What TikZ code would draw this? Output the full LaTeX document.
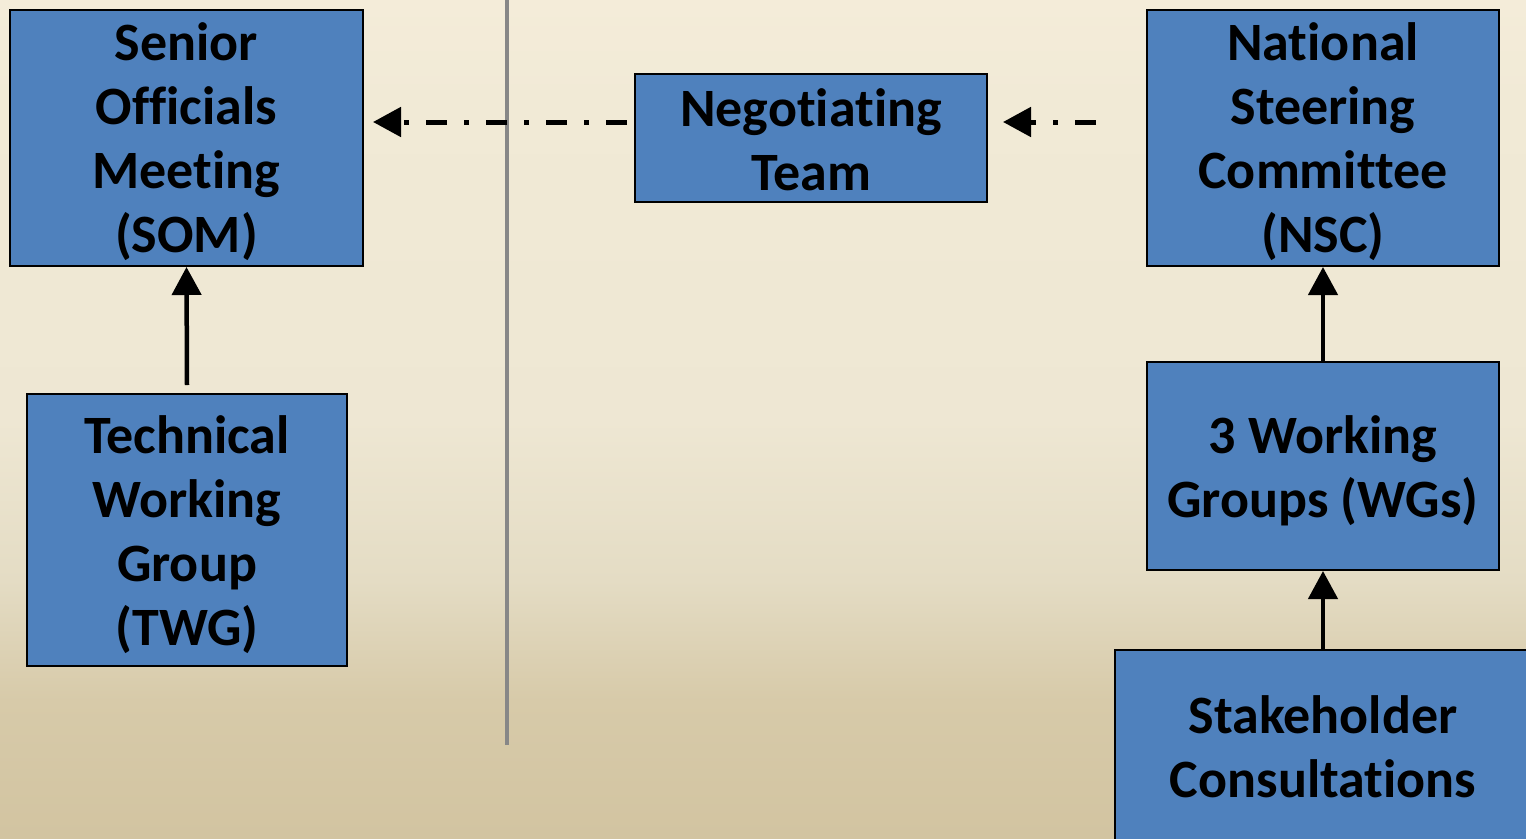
\documentclass[tikz,border=0pt]{standalone}
\usepackage{fontspec}
\setmainfont{Carlito}[Ligatures={NoCommon}]
\usetikzlibrary{arrows.meta}
\definecolor{boxblue}{HTML}{4F81BD}
\definecolor{divgray}{HTML}{878787}
\definecolor{bgA}{HTML}{F4ECD9}
\definecolor{bgB}{HTML}{F1EAD6}
\definecolor{bgC}{HTML}{EEE7D3}
\definecolor{bgD}{HTML}{E4DCC4}
\definecolor{bgE}{HTML}{D7CAA9}
\definecolor{bgF}{HTML}{D2C4A1}
\tikzset{
  orgbox/.style={draw=black, line width=2pt, fill=boxblue, inner sep=0pt},
  boxtext/.style={inner sep=0pt, align=center, font=\fontsize{54}{64}\selectfont\bfseries},
  solidarrow/.style={line width=4.5pt, -{Triangle[length=28pt,width=29pt]}},
  dasharrow/.style={line width=5pt, dash pattern=on 21pt off 17pt on 5pt off 17pt,
    -{Triangle[length=28pt,width=29pt]}},
  divider/.style={line width=4pt, draw=divgray}
}
\begin{document}
\begin{tikzpicture}[x=1pt,y=-1pt]
\useasboundingbox (0,0) rectangle (1526,838);
\clip (0,0) rectangle (1526,838);
% background gradient
\shade[top color=bgA, bottom color=bgB] (0,0) rectangle (1526,100.5);
\shade[top color=bgB, bottom color=bgC] (0,100) rectangle (1526,420.5);
\shade[top color=bgC, bottom color=bgD] (0,420) rectangle (1526,580.5);
\shade[top color=bgD, bottom color=bgE] (0,580) rectangle (1526,700.5);
\shade[top color=bgE, bottom color=bgF] (0,700) rectangle (1526,838);
% divider
\coordinate (divtop) at (507,0);
\coordinate (divbot) at (507,745);
\draw[divider] (divtop) -- (divbot);
% boxes
\node[orgbox, minimum width=353pt, minimum height=256pt] (som) at (186.5,138) {};
\node[orgbox, minimum width=320pt, minimum height=272pt] (twg) at (187,530) {};
\node[orgbox, minimum width=352pt, minimum height=128pt] (neg) at (811,138) {};
\node[orgbox, minimum width=352pt, minimum height=256pt] (nsc) at (1323,138) {};
\node[orgbox, minimum width=352pt, minimum height=208pt] (wgs) at (1323,466) {};
\node[orgbox, minimum width=416pt, minimum height=200pt] (stake) at (1323,750) {};
% texts
\node[boxtext] (somtxt) at ([yshift=-4pt]som.center) {Senior\\Officials\\Meeting\\(SOM)};
\node[boxtext] (twgtxt) at ([yshift=-5pt]twg.center) {Technical\\Working\\Group\\(TWG)};
\node[boxtext] (negtxt) at ([yshift=-1.5pt]neg.center) {Negotiating\\Team};
\node[boxtext] (nsctxt) at ([yshift=-4pt]nsc.center) {National\\Steering\\Committee\\(NSC)};
\node[boxtext] (wgstxt) at ([yshift=-5pt]wgs.center) {3 Working\\Groups (WGs)};
\node[boxtext] (staketxt) at ([yshift=3.5pt]stake.center) {Stakeholder\\Consultations};
% arrows
\draw[solidarrow] ([yshift=8pt]twg.north) -- (som.south);
\draw[solidarrow] (wgs.north) -- (nsc.south);
\draw[solidarrow] (stake.north) -- (wgs.south);
\draw[dasharrow] ([xshift=-7pt,yshift=16pt]neg.west) -- ([xshift=9pt,yshift=16pt]som.east);
\draw[dasharrow] ([xshift=-50pt,yshift=16pt]nsc.west) -- ([xshift=15pt,yshift=16pt]neg.east);
\end{tikzpicture}
\end{document}
